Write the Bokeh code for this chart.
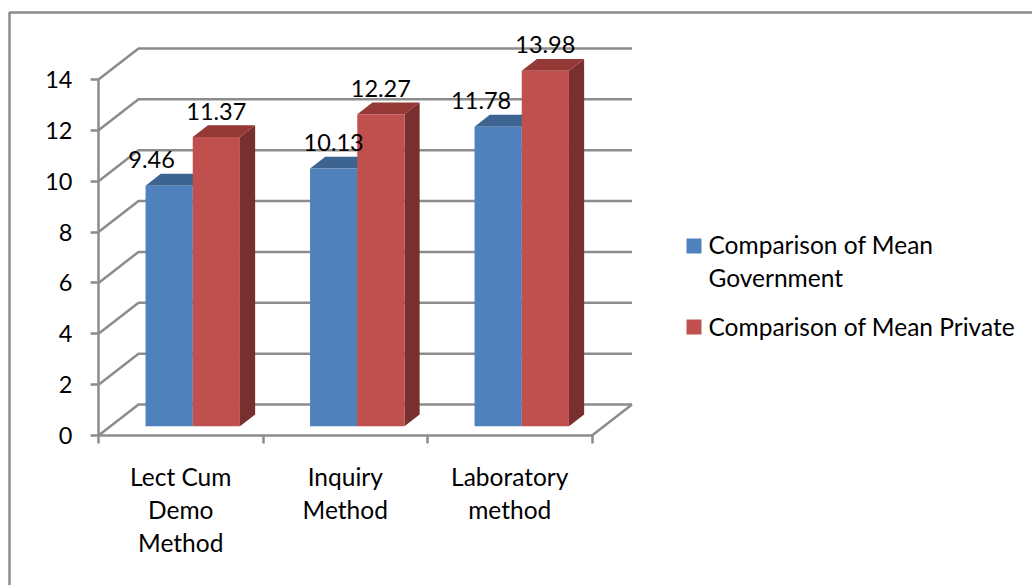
from bokeh.embed import file_html
from bokeh.resources import INLINE
from bokeh.plotting import figure
from bokeh.models import Range1d, FixedTicker, ColumnDataSource, BoxAnnotation
from bokeh.core.properties import value

categories = ["Lect Cum\nDemo\nMethod", "Inquiry\nMethod", "Laboratory\nmethod"]
government = [9.46, 10.13, 11.78]
private = [11.37, 12.27, 13.98]
series_names = ["Comparison of Mean\nGovernment", "Comparison of Mean Private"]
y_ticks = [0, 2, 4, 6, 8, 10, 12, 14]

FONT = "Lato"
FS = "24.5px"
FS_NUM = "23.5px"
GRID = "#8c8c8c"
BLUE, BLUE_TOP = "#4f81bd", "#3d6491"
RED, RED_TOP, RED_SIDE = "#c0504d", "#953937", "#78302e"

W, H = 1032, 585
OX, OY = 0, 0
X0, Y0 = 98.0, 435.0
UX, UY = 164.5, 25.43


def dx(px):
    return (px - X0) / UX


def dy(py):
    return (Y0 - py) / UY


p = figure(width=W, height=H, output_backend="svg", toolbar_location=None,
           x_range=Range1d(dx(OX), dx(OX + W)), y_range=Range1d(dy(OY + H), dy(OY)),
           min_border=0, outline_line_color=None, background_fill_color="white",
           border_fill_color="white")
p.grid.visible = False

# 3D geometry, in data units
DEPTH_X, DEPTH_Y = 40 / UX, 31 / UY
Z0, Z1 = 0.30, 0.68
BAR_W = 47.2 / UX
GAP = (1 - 2 * BAR_W) / 2

# walls: gridlines
for v in y_ticks:
    p.line([0, DEPTH_X, 3 + DEPTH_X], [v, v + DEPTH_Y, v + DEPTH_Y], line_color=GRID, line_width=2.5)
p.line([3, 3 + DEPTH_X], [0, DEPTH_Y], line_color=GRID, line_width=2.5)


def bar(left, val, front, top, side):
    right = left + BAR_W
    x0, y0 = Z0 * DEPTH_X, Z0 * DEPTH_Y
    x1, y1 = Z1 * DEPTH_X, Z1 * DEPTH_Y
    p.patch([right + x0, right + x1, right + x1, right + x0],
            [y0, y1, val + y1, val + y0], fill_color=side, line_color=None)
    p.patch([left + x0, left + x1, right + x1, right + x0],
            [val + y0, val + y1, val + y1, val + y0], fill_color=top, line_color=None)
    p.quad(left=left + x0, right=right + x0, bottom=y0, top=val + y0,
           fill_color=front, line_color=None)


labels_x, labels_y, labels_t, labels_nudge = [], [], [], []
nudge_g = [-17.6, 0, -17.0]
for i in range(len(government)):
    l = i + GAP
    bar(l, government[i], BLUE, BLUE_TOP, BLUE_TOP)
    bar(l + BAR_W, private[i], RED, RED_TOP, RED_SIDE)
    labels_x += [l + BAR_W / 2 + Z0 * DEPTH_X, l + 1.5 * BAR_W + Z0 * DEPTH_X]
    labels_y += [government[i] + Z0 * DEPTH_Y, private[i] + Z0 * DEPTH_Y]
    labels_t += [f"{government[i]:.2f}", f"{private[i]:.2f}"]
    labels_nudge += [nudge_g[i], 0]

src = ColumnDataSource(dict(x=labels_x, y=labels_y, t=labels_t, n=labels_nudge))
p.text("x", "y", text="t", source=src, x_offset="n", y_offset=-26, text_align="center",
       text_baseline="middle", text_font=value(FONT), text_font_size=value(FS_NUM), text_color="#000000")

# axes
p.yaxis.fixed_location = 0
p.xaxis.fixed_location = 0
p.yaxis.bounds = (0, 14)
p.xaxis.bounds = (0, 3)
p.yaxis.ticker = FixedTicker(ticks=y_ticks)
p.yaxis.major_tick_in = 0
p.yaxis.major_tick_out = 8
p.yaxis.minor_tick_out = 0
p.yaxis.minor_tick_in = 0
p.yaxis.major_label_standoff = 18
p.xaxis.ticker = FixedTicker(ticks=[0.5, 1.5, 2.5], minor_ticks=[0, 1, 2, 3])
p.xaxis.major_label_overrides = {0.5: categories[0], 1.5: categories[1], 2.5: categories[2]}
p.xaxis.major_tick_in = 0
p.xaxis.major_tick_out = 0
p.xaxis.minor_tick_in = 0
p.xaxis.minor_tick_out = 8
p.xaxis.major_label_standoff = 18
for ax in (p.xaxis, p.yaxis):
    ax.axis_line_color = GRID
    ax.axis_line_width = 2.5
    ax.major_tick_line_color = GRID
    ax.major_tick_line_width = 2.5
    ax.minor_tick_line_color = GRID
    ax.minor_tick_line_width = 2.5
    ax.major_label_text_font = FONT
    ax.major_label_text_color = "#000000"
p.xaxis.major_label_text_font_size = FS
p.yaxis.major_label_text_font_size = FS_NUM
p.xaxis.major_label_text_line_height = 1.14

# legend
for name, color, sy, ty in zip(series_names, [BLUE, RED], [238, 319], [229, 311]):
    p.quad(left=dx(686), right=dx(701), top=dy(sy), bottom=dy(sy + 15), fill_color=color, line_color=None)
    p.text([dx(708)], [dy(ty)], text=[name], text_align="left", text_baseline="top",
           text_font=value(FONT), text_font_size=value(FS), text_color="#000000", text_line_height=1.14)

# chart frame
p.add_layout(BoxAnnotation(left=9, right=1040, top=12, bottom=600,
                           left_units="canvas", right_units="canvas", top_units="canvas", bottom_units="canvas",
                           fill_color=None, line_color=GRID, line_alpha=1.0, line_width=2.5))

open("out.html", "w").write(file_html(p, INLINE))
